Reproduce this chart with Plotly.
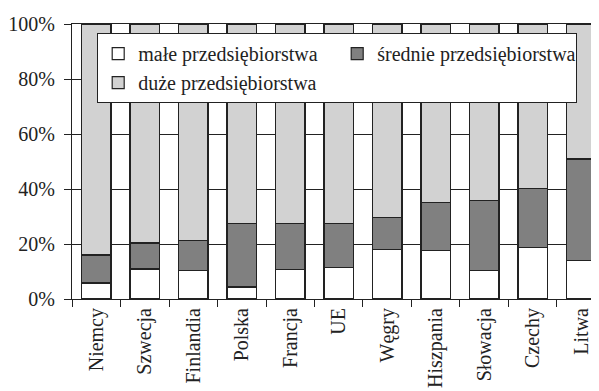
import plotly.graph_objects as go

countries = ["Niemcy", "Szwecja", "Finlandia", "Polska", "Francja", "UE",
             "Węgry", "Hiszpania", "Słowacja", "Czechy", "Litwa"]
small = [5.8, 10.9, 10.4, 4.4, 10.7, 11.4, 18.1, 17.6, 10.5, 18.6, 14.0]
medium = [10.2, 9.5, 10.8, 23.0, 16.7, 16.0, 11.4, 17.4, 25.4, 21.6, 36.9]
large = [84.0, 79.6, 78.8, 72.6, 72.6, 72.6, 70.5, 65.0, 64.1, 59.8, 49.1]

y_ticks = [0, 20, 40, 60, 80, 100]
y_tick_labels = ["0%", "20%", "40%", "60%", "80%", "100%"]

FONT = "Liberation Serif"
INK = "#222222"
line = dict(color=INK, width=1.2)

fig = go.Figure()
fig.add_trace(go.Bar(x=countries, y=small, name="małe przedsiębiorstwa",
                     marker=dict(color="#ffffff", line=line)))
fig.add_trace(go.Bar(x=countries, y=medium, name="średnie przedsiębiorstwa",
                     marker=dict(color="#808080", line=line)))
fig.add_trace(go.Bar(x=countries, y=large, name="duże przedsiębiorstwa",
                     marker=dict(color="#d2d2d2", line=line)))

# page body has an 8px default margin, so the figure is 8px smaller
fig.update_layout(
    width=591, height=383,
    barmode="stack", bargap=0.395,
    paper_bgcolor="white", plot_bgcolor="white",
    font=dict(family=FONT, size=20, color=INK),
    margin=dict(l=64, r=2, t=16, b=92),
    legend=dict(orientation="h", x=0.048, y=0.967, xanchor="left", yanchor="top",
                traceorder="normal", bgcolor="white", bordercolor=INK,
                borderwidth=1, entrywidth=194, entrywidthmode="pixels",
                font=dict(family=FONT, size=20, color=INK),
                itemclick=False, tracegroupgap=0),
    showlegend=True,
)
fig.update_xaxes(range=[-0.5, 10.325], automargin=False,
                 showline=True, linecolor=INK, linewidth=1, mirror=True,
                 ticks="outside", tickson="boundaries", ticklen=7, tickcolor=INK,
                 tickangle=-90, showgrid=False,
                 tickfont=dict(family=FONT, size=20, color=INK))
fig.update_yaxes(range=[0, 100], tickvals=y_ticks, ticktext=y_tick_labels,
                 automargin=False, ticklabelstandoff=5,
                 showline=True, linecolor=INK, linewidth=1, mirror=True,
                 ticks="outside", ticklen=7, tickcolor=INK,
                 showgrid=True, gridcolor=INK, gridwidth=1, zeroline=False,
                 tickfont=dict(family=FONT, size=20, color=INK))

fig.write_html("out.html")
